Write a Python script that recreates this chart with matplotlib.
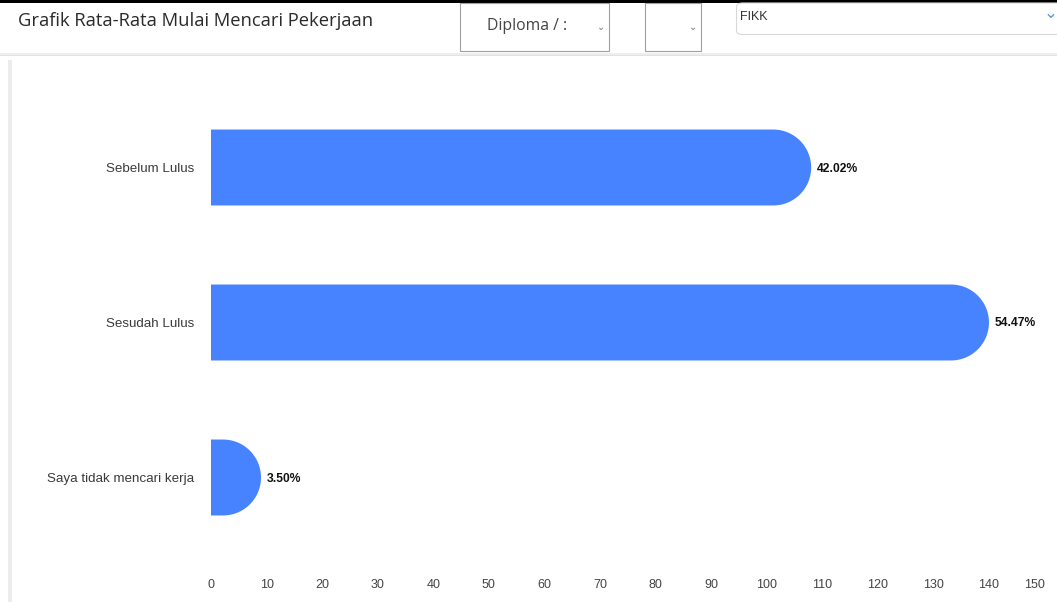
import matplotlib
matplotlib.use("Agg")
import matplotlib.pyplot as plt
import numpy as np
from matplotlib.patches import Polygon, Rectangle, FancyBboxPatch

categories = ["Sebelum Lulus", "Sesudah Lulus", "Saya tidak mencari kerja"]
counts = [108, 140, 9]
percent_labels = ["42.02%", "54.47%", "3.50%"]
xticks = [0, 10, 20, 30, 40, 50, 60, 70, 80, 90, 100, 110, 120, 130, 140, 150]
title = "Grafik Rata-Rata Mulai Mencari Pekerjaan"

W, H = 1057, 602
DPI = 100
fig = plt.figure(figsize=(W / DPI, H / DPI), dpi=DPI)
fig.patch.set_facecolor("white")


def fx(px):
    return px / W


def fy(py):
    return 1 - py / H


def frect(x0, y0, x1, y1, **kw):
    r = Rectangle((fx(x0), fy(y1)), fx(x1) - fx(x0), fy(y0) - fy(y1),
                  transform=fig.transFigure, **kw)
    fig.add_artist(r)
    return r


# ---- header ----
frect(0, 0, W, 3, facecolor="black", edgecolor="none")
frect(0, 53, W, 56, facecolor="#eeeeee", edgecolor="none")
frect(0, 55, W, 56, facecolor="#e2e2e2", edgecolor="none")
fig.text(fx(18), fy(21), title, fontsize=13.2, family="Open Sans",
         color="#2a2a2a", va="center", ha="left")

# dropdown 1
frect(459.5, 3, 608.5, 50.5, facecolor="white", edgecolor="#a0a0a0", linewidth=0.8)
fig.text(fx(487), fy(26), "Diploma / :", fontsize=11.3, family="Open Sans",
         color="#444444", va="center", ha="left")
fig.text(fx(601), fy(27), "⌄", fontsize=7, family="DejaVu Sans",
         color="#777777", va="center", ha="center")
# dropdown 2
frect(644.5, 3, 700.5, 50.5, facecolor="white", edgecolor="#a0a0a0", linewidth=0.8)
fig.text(fx(693), fy(27), "⌄", fontsize=7, family="DejaVu Sans",
         color="#777777", va="center", ha="center")
# dropdown 3
box = FancyBboxPatch((fx(736.5), fy(34.5)), fx(1070) - fx(736.5), fy(3) - fy(34.5),
                     boxstyle="round,pad=0,rounding_size=0.006",
                     transform=fig.transFigure, facecolor="white",
                     edgecolor="#d8d8d8", linewidth=0.8)
fig.add_artist(box)
fig.text(fx(740), fy(17), "FIKK", fontsize=9, family="Liberation Sans",
         color="#333333", va="center", ha="left")
fig.text(fx(1051), fy(13), "⌄", fontsize=12, family="DejaVu Sans",
         color="#5b9bd5", va="center", ha="center")

# card left border
frect(8, 60, 12, H, facecolor="#ececec", edgecolor="none")

# ---- chart ----
xmin, xmax = 0, 150
px_unit = 5.557
ax_left = 211
ax_right = ax_left + (xmax - xmin) * px_unit
ax_top, ax_bottom = 90, 555
ax = fig.add_axes([fx(ax_left), fy(ax_bottom), fx(ax_right) - fx(ax_left),
                   fy(ax_top) - fy(ax_bottom)])
ax.set_facecolor("none")
ax.set_xlim(xmin, xmax)
ax.set_ylim(len(categories) - 0.5, -0.5)

bar_h = 0.49
half = bar_h / 2
px_per_y = (ax_bottom - ax_top) / len(categories)
px_per_x = (ax_right - ax_left) / (xmax - xmin)
r_px = half * px_per_y
rx = r_px / px_per_x

bar_color = "#4883FF"
ypos = np.arange(len(categories))
for yi, v, lab in zip(ypos, counts, percent_labels):
    flat = max(v - rx, 0)
    t = np.linspace(-np.pi / 2, np.pi / 2, 60)
    arc_x = flat + rx * np.cos(t)
    arc_y = yi + half * np.sin(t)
    pts = [(0, yi - half)] + list(zip(arc_x, arc_y)) + [(0, yi + half)]
    ax.add_patch(Polygon(pts, closed=True, facecolor=bar_color, edgecolor="none"))
    ax.text(v + 6 / px_per_x, yi + 1 / px_per_y, lab, fontsize=8.7, fontweight="bold",
            family="Liberation Sans", color="#111111", va="center", ha="left")

ax.set_yticks(ypos)
ax.set_yticklabels(categories, fontsize=9.6, family="Liberation Sans", color="#3a3a3a")
ax.set_xticks(xticks)
ax.set_xticklabels([str(t) for t in xticks], fontsize=9, family="Liberation Sans",
                   color="#444444")
ax.get_xticklabels()[-1].set_ha("right")
ax.tick_params(axis="both", length=0)
ax.tick_params(axis="y", pad=12)
ax.tick_params(axis="x", pad=17)
for s in ax.spines.values():
    s.set_visible(False)

fig.savefig("out.png", dpi=DPI, facecolor="white")
